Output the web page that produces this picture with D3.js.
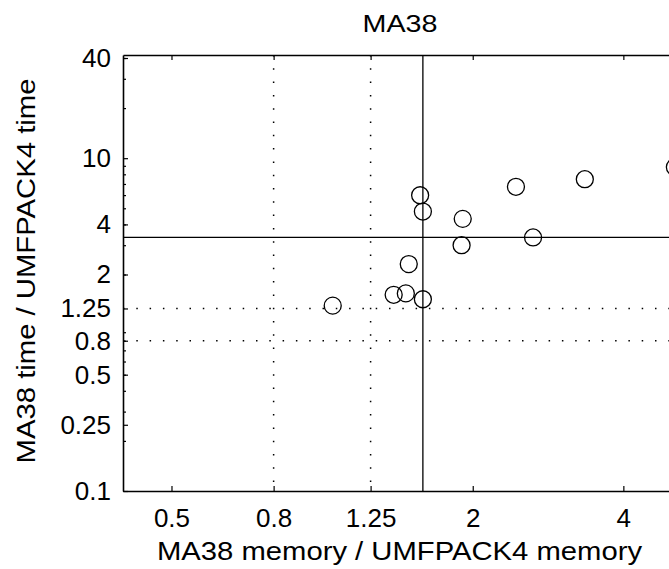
<!DOCTYPE html>
<html>
<head>
<meta charset="utf-8">
<script src="https://cdn.jsdelivr.net/npm/d3@7"></script>
<style>
  body { margin: 0; background: #fff; }
  svg { display: block; font-family: "Liberation Sans", Arial, sans-serif; }
</style>
</head>
<body>
<div id="chart"></div>
<script>
// memory ratio (x) and time ratio (y) per matrix
const memRatio  = [1.57, 1.59, 1.91, 2.44, 3.35, 5.07, 1.90, 2.64, 1.49, 1.39, 1.47, 1.59, 1.05];
const timeRatio = [5.99, 4.78, 4.32, 6.73, 7.48, 8.84, 3.00, 3.34, 2.31, 1.51, 1.54, 1.42, 1.30];

const xTicks = [0.5, 0.8, 1.25, 2, 4];
const yTicks = [0.1, 0.25, 0.5, 0.8, 1.25, 2, 4, 10, 40];
const xGuides = [0.8, 1.25];
const yGuides = [0.8, 1.25];

const W = 669, H = 569;
const plotLeft = 123, plotRight = 677, plotTop = 55, plotBottom = 491;

const svg = d3.select("#chart").append("svg")
  .attr("width", W)
  .attr("height", H);

const x = d3.scaleLog().domain([0.4, 5.12]).range([plotLeft, plotRight]);
const y = d3.scaleLog().domain([0.1, 41.7]).range([plotBottom, plotTop]);

// minor ticks on the y axis (2..9 per decade)
const yMinor = [];
for (let e = -1; e <= 1; e++) {
  for (let k = 2; k <= 9; k++) {
    const v = k * Math.pow(10, e);
    if (v < 41.7) yMinor.push(v);
  }
}

// dotted guides
const guides = svg.append("g")
  .attr("stroke", "#000")
  .attr("stroke-width", 1.5)
  .attr("stroke-dasharray", "1.5,11.8");

guides.selectAll("line.vg")
  .data(xGuides)
  .join("line")
  .attr("class", "vg")
  .attr("x1", d => x(d)).attr("x2", d => x(d))
  .attr("y1", plotTop).attr("y2", plotBottom);

guides.selectAll("line.hg")
  .data(yGuides)
  .join("line")
  .attr("class", "hg")
  .attr("x1", plotLeft).attr("x2", plotRight)
  .attr("y1", d => y(d)).attr("y2", d => y(d));

// median lines
const mx = d3.median(memRatio);
const my = d3.median(timeRatio);

svg.append("line")
  .attr("x1", x(mx)).attr("x2", x(mx))
  .attr("y1", plotTop).attr("y2", plotBottom)
  .attr("stroke", "#000").attr("stroke-width", 1.3);

svg.append("line")
  .attr("x1", plotLeft).attr("x2", plotRight)
  .attr("y1", y(my)).attr("y2", y(my))
  .attr("stroke", "#000").attr("stroke-width", 1.3);

// axes (ticks inward)
const xAxis = svg.append("g")
  .attr("class", "axis")
  .attr("transform", `translate(0,${plotBottom})`)
  .call(d3.axisBottom(x).tickValues(xTicks).tickFormat(d3.format("")).tickSize(-5).tickSizeOuter(0).tickPadding(24));
xAxis.selectAll("text").attr("y", 18);

svg.append("g")
  .attr("class", "axis")
  .attr("transform", `translate(0,${plotTop})`)
  .call(d3.axisTop(x).tickValues(xTicks).tickFormat("").tickSize(-5).tickSizeOuter(0));

svg.append("g")
  .attr("class", "axis")
  .attr("transform", `translate(${plotLeft},0)`)
  .call(d3.axisLeft(y).tickValues(yTicks).tickFormat(d3.format("")).tickSize(-5).tickSizeOuter(0).tickPadding(12));

svg.append("g")
  .attr("class", "axis")
  .attr("transform", `translate(${plotLeft},0)`)
  .call(d3.axisLeft(y).tickValues(yMinor).tickFormat("").tickSize(-3).tickSizeOuter(0))
  .select("path").remove();

svg.selectAll(".axis")
  .attr("font-size", 26)
  .attr("font-family", "'Liberation Sans', Arial, sans-serif");
svg.selectAll(".axis text").attr("fill", "#000");
svg.selectAll(".axis path").attr("stroke", "#000").attr("stroke-width", 1.6);
svg.selectAll(".axis line").attr("stroke", "#000").attr("stroke-width", 1.2);

// points
svg.append("g")
  .selectAll("circle")
  .data(memRatio.map((m, i) => ({ m, t: timeRatio[i] })))
  .join("circle")
  .attr("cx", d => x(d.m))
  .attr("cy", d => y(d.t))
  .attr("r", 8.5)
  .attr("fill", "none")
  .attr("stroke", "#000")
  .attr("stroke-width", 1.3);

// title and labels
svg.append("text")
  .attr("x", 400).attr("y", 32)
  .attr("text-anchor", "middle")
  .attr("font-size", 23)
  .attr("textLength", 75)
  .attr("lengthAdjust", "spacingAndGlyphs")
  .text("MA38");

svg.append("text")
  .attr("x", 399.5).attr("y", 560)
  .attr("text-anchor", "middle")
  .attr("font-size", 25)
  .attr("textLength", 485)
  .attr("lengthAdjust", "spacingAndGlyphs")
  .text("MA38 memory / UMFPACK4 memory");

svg.append("text")
  .attr("transform", "translate(35,271) rotate(-90)")
  .attr("text-anchor", "middle")
  .attr("font-size", 25)
  .attr("textLength", 385)
  .attr("lengthAdjust", "spacingAndGlyphs")
  .text("MA38 time / UMFPACK4 time");
</script>
</body>
</html>
